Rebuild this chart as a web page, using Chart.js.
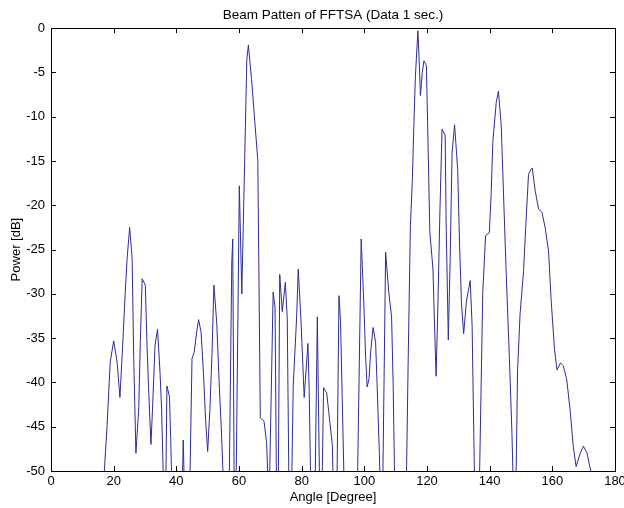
<!DOCTYPE html>
<html>
<head>
<meta charset="utf-8">
<script src="https://cdn.jsdelivr.net/npm/chart.js@4/dist/chart.umd.min.js"></script>
<style>
  body { margin: 0; background: #fff; }
  #wrap { width: 624px; height: 508px; }
</style>
</head>
<body>
<div id="wrap"><canvas id="beamChart" width="624" height="508"></canvas></div>
<script>
// angle samples (deg); values under -50 run off the bottom of the axes
const angles = [
  16, 17.9, 18.9, 20, 21.1, 22, 22.7, 23.7, 24.3, 25.1, 25.9, 26.4, 27.1, 28, 28.5, 29.1, 30.1,
  30.6, 31.1, 31.9, 32.4, 33.2, 34, 34.8, 35.3, 36, 36.6, 37, 37.8, 38.2, 38.7, 41.8, 42.2, 42.7,
  44.2, 45, 45.7, 46.5, 47.1, 47.9, 48.7, 49.3, 50, 50.7, 51.4, 52, 52.9, 53.7, 54.4, 55.3,
  56.8, 57.7, 58, 58.5, 59, 60.1, 60.9, 62.5, 63, 64, 65.1, 66, 66.8, 68, 68.8, 69.6,
  70.9, 71.5, 72, 72.5, 73, 73.8, 74.8, 75.4, 76, 76.7, 77.3, 78.4, 78.9, 79.8, 80.8, 82, 82.4, 83,
  84.2, 85, 85.8, 86.4, 87, 88, 89, 89.8, 90.2, 91.2, 91.9, 92.4, 92.9, 93.7,
  97.7, 99, 99.9, 100.4, 100.9, 101.5, 102, 102.8, 103.6, 104.1, 104.8, 105.2,
  105.8, 106.8, 107.8, 108.7, 109.2, 109.8,
  113.3, 114, 114.7, 115.3, 115.8, 116.3, 117.1, 117.6, 117.9, 118.5, 119, 119.8, 120.2, 120.9,
  121.9, 122.4, 122.9, 123.5, 124.1, 124.8, 125.8, 126.1, 126.8, 127.4, 128, 128.8, 129.8, 130.4,
  131, 131.7, 132.6, 133.8, 134.4, 135.3,
  136.6, 137.8, 138.7, 139.9, 140.5, 141, 142.1, 142.8, 143.7, 144.4, 145.3, 146.3, 147.1, 147.7,
  148.3, 148.9, 149.7, 150.8, 151.5, 152.4, 153.1, 153.6, 154.5, 155.6, 156.7, 157.7, 158.8,
  159.6, 160.7, 161.5, 162.6, 163.5, 164.6, 165.7, 166.7, 167.6, 168.9, 169.9, 171, 172.4, 173
];
const power = [
  -56, -44.9, -37.7, -35.3, -37.7, -41.7, -37, -29.8, -26, -22.5, -26, -37.3, -48, -43, -35.5, -28.3, -29,
  -35.3, -40.3, -47, -43, -35.8, -34, -38.9, -43, -53, -53, -40.4, -41.6, -46.3, -54, -54, -46.5, -54,
  -54, -37.3, -36.6, -34.3, -32.9, -34.3, -39.2, -44, -47.8, -43.1, -36.6, -29, -33.3, -40.3, -45.6, -54,
  -54, -26.4, -23.8, -54, -54, -17.8, -30, -3.5, -1.9, -5.8, -10.8, -14.9, -44, -44.4, -46.8, -54,
  -29.8, -31.5, -54, -54, -27.8, -32, -28.7, -32.8, -54, -54, -40.4, -32.6, -27.2, -33.1, -41.7, -35.6, -40.9, -54,
  -54, -32.6, -54, -54, -40.6, -41.2, -44.5, -47.1, -54, -54, -30.2, -33.1, -41.1, -54,
  -54, -23.8, -31.7, -37, -40.5, -39.6, -36.6, -33.8, -35.5, -40.5, -48, -54,
  -54, -25.3, -29.8, -32.6, -40.3, -54,
  -54, -37.4, -22.3, -17.4, -11, -5.4, -0.3, -4.5, -7.6, -5, -3.7, -4.2, -10.8, -23,
  -27.2, -33.4, -39.3, -31, -21, -11.4, -12.1, -21.8, -35.2, -26, -14.1, -10.9, -16, -24.5,
  -31, -34.5, -30.8, -28.5, -33.6, -54,
  -54, -29.8, -23.4, -23.1, -18.5, -12.9, -8.4, -7.1, -11, -18.5, -27.9, -37.3, -45.6, -54,
  -54, -38.7, -32.3, -27.5, -22.5, -16.5, -16, -15.8, -18.3, -20.4, -20.8, -22.5, -25.2,
  -30.6, -36.3, -38.6, -37.8, -38.1, -39.7, -43.2, -47.3, -49.5, -48, -47.2, -47.9, -50.2, -54
];
const xTicks = [0, 20, 40, 60, 80, 100, 120, 140, 160, 180];
const yTicks = [0, -5, -10, -15, -20, -25, -30, -35, -40, -45, -50];

const points = angles.map((a, i) => ({ x: a, y: power[i] }));

// matlab style: closed box with ticks pointing inwards on all four sides
const matlabBox = {
  id: 'matlabBox',
  afterDatasetsDraw(chart) {
    const { ctx, chartArea: a, scales: { x, y } } = chart;
    const len = 5;
    ctx.save();
    ctx.strokeStyle = '#000';
    ctx.lineWidth = 1;
    ctx.beginPath();
    x.ticks.forEach(t => {
      const px = Math.round(x.getPixelForValue(t.value)) + 0.5;
      ctx.moveTo(px, a.bottom); ctx.lineTo(px, a.bottom - len);
      ctx.moveTo(px, a.top); ctx.lineTo(px, a.top + len);
    });
    y.ticks.forEach(t => {
      const py = Math.round(y.getPixelForValue(t.value)) + 0.5;
      ctx.moveTo(a.left, py); ctx.lineTo(a.left + len, py);
      ctx.moveTo(a.right, py); ctx.lineTo(a.right - len, py);
    });
    ctx.stroke();
    ctx.strokeRect(Math.round(a.left) + 0.5, Math.round(a.top) + 0.5,
      Math.round(a.right - a.left), Math.round(a.bottom - a.top));
    ctx.restore();
  }
};

const font = { family: '"Liberation Sans", Arial, sans-serif', size: 13 };

new Chart(document.getElementById('beamChart'), {
  type: 'line',
  data: {
    datasets: [{
      data: points,
      borderColor: 'rgb(45, 45, 150)',
      borderWidth: 1,
      pointRadius: 0,
      tension: 0,
      fill: false
    }]
  },
  options: {
    responsive: false,
    animation: false,
    layout: { padding: { left: 0, right: 9, top: 0, bottom: 0 } },
    plugins: {
      legend: { display: false },
      tooltip: { enabled: false },
      title: {
        display: true,
        fullSize: false,
        text: 'Beam Patten of FFTSA (Data 1 sec.)',
        color: '#000',
        font: { family: font.family, size: 13.5, weight: 'normal' },
        padding: { top: 7, bottom: 5 }
      }
    },
    scales: {
      x: {
        type: 'linear',
        min: 0,
        max: 180,
        afterBuildTicks: s => { s.ticks = xTicks.map(v => ({ value: v })); },
        afterFit: s => { s.height = 37; s.paddingLeft = 0; s.paddingRight = 0; },
        grid: { display: false, drawTicks: false, tickLength: 0 },
        border: { display: false },
        ticks: { color: '#000', font, padding: 3, maxRotation: 0, autoSkip: false },
        title: { display: true, text: 'Angle [Degree]', color: '#000', font, padding: { top: 0, bottom: 3 } }
      },
      y: {
        type: 'linear',
        min: -50,
        max: 0,
        afterBuildTicks: s => { s.ticks = yTicks.map(v => ({ value: v })); },
        afterFit: s => { s.width = 51; s.paddingTop = 0; s.paddingBottom = 0; },
        grid: { display: false, drawTicks: false, tickLength: 0 },
        border: { display: false },
        ticks: { color: '#000', font, padding: 6, autoSkip: false },
        title: { display: true, text: 'Power [dB]', color: '#000', font, padding: { top: 9, bottom: 0 } }
      }
    }
  },
  plugins: [matlabBox]
});
</script>
</body>
</html>
